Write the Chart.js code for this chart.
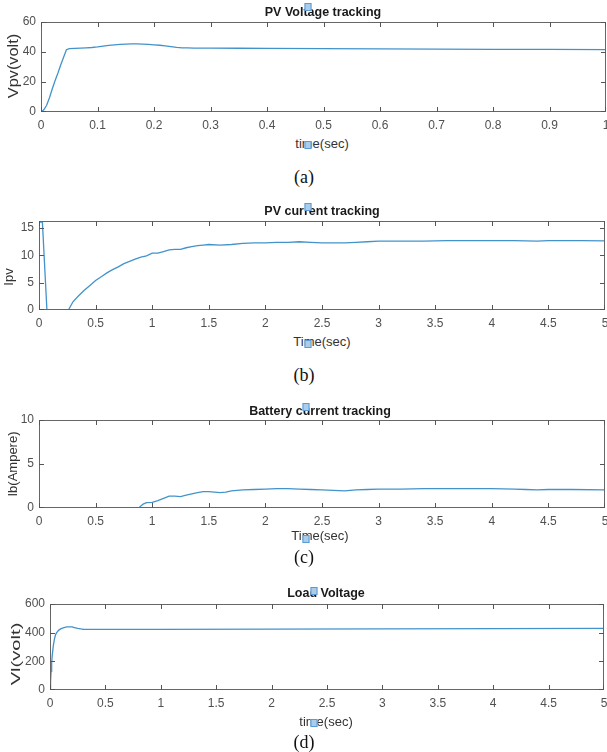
<!DOCTYPE html>
<html>
<head>
<meta charset="utf-8">
<script src="https://cdn.jsdelivr.net/npm/chart.js@4.4.1/dist/chart.umd.min.js"></script>
<style>
  body { margin: 0; background: #fff; }
  #page { position: relative; width: 607px; height: 752px; overflow: hidden; background: #fff; }
  canvas { position: absolute; left: 0; }
  .txt { position: absolute; white-space: nowrap; line-height: 1; font-family: "Liberation Sans", Arial, sans-serif; }
  .title { font-weight: bold; font-size: 12.5px; color: #1a1a1a; transform: translate(-50%, -50%); }
  .xlab { font-size: 13px; color: #333; transform: translate(-50%, -50%); }
  .ylab { color: #333; }
  .cap { font-family: "Liberation Serif", "Times New Roman", serif; font-size: 18px; color: #111; transform: translate(-50%, -50%); }
  .cursor { position: absolute; width: 5px; height: 6px; background: #a9cdea; border: 1px solid #5b9bd5; transform: translate(-50%, -50%); }
  .frame { position: absolute; box-sizing: border-box; border: 1px solid #666; }
  .tick { position: absolute; background: #555; }
</style>
</head>
<body>
<div id="page"></div>
<script>
// (a) PV voltage
const vpvTime = [0, 0.005, 0.01, 0.015, 0.02, 0.025, 0.03, 0.035, 0.04, 0.045, 0.05, 0.06, 0.07, 0.08, 0.09, 0.1, 0.11, 0.12, 0.13, 0.14, 0.15, 0.16, 0.17, 0.18, 0.19, 0.2, 0.21, 0.22, 0.23, 0.24, 0.25, 0.26, 0.27, 0.3, 0.35, 0.4, 0.5, 0.6, 0.7, 0.8, 0.9, 1.0];
const vpvVolt = [0, 1.5, 4.5, 9.5, 15.5, 21, 26, 31.5, 36.5, 41.5, 42.2, 42.4, 42.6, 42.8, 43, 43.4, 43.9, 44.4, 44.8, 45.1, 45.3, 45.4, 45.4, 45.3, 45.1, 44.8, 44.5, 44.1, 43.6, 43.1, 42.8, 42.7, 42.6, 42.6, 42.5, 42.4, 42.2, 42.1, 41.9, 41.8, 41.7, 41.6];

// (b) PV current
const ipvTime = [0, 0, 0.03, 0.07, 0.26, 0.3, 0.35, 0.4, 0.45, 0.5, 0.55, 0.6, 0.65, 0.7, 0.75, 0.8, 0.85, 0.9, 0.95, 1.0, 1.05, 1.1, 1.15, 1.2, 1.25, 1.3, 1.35, 1.4, 1.45, 1.5, 1.6, 1.7, 1.8, 1.9, 2.0, 2.1, 2.2, 2.3, 2.4, 2.5, 2.6, 2.7, 2.8, 2.9, 3.0, 3.2, 3.4, 3.6, 3.8, 4.0, 4.2, 4.4, 4.5, 4.6, 4.8, 5.0];
const ipvAmp = [0, 16.1, 16.1, 0, 0, 1.5, 2.6, 3.6, 4.5, 5.4, 6.1, 6.8, 7.4, 7.9, 8.5, 8.9, 9.3, 9.7, 9.9, 10.4, 10.4, 10.7, 11.0, 11.1, 11.1, 11.4, 11.6, 11.8, 11.9, 12.0, 11.9, 12.0, 12.2, 12.3, 12.3, 12.4, 12.4, 12.5, 12.4, 12.3, 12.3, 12.3, 12.4, 12.5, 12.6, 12.6, 12.6, 12.7, 12.7, 12.7, 12.7, 12.6, 12.7, 12.7, 12.7, 12.65];

// (c) battery current
const ibTime = [0, 0.88, 0.92, 0.95, 1.0, 1.05, 1.1, 1.15, 1.2, 1.25, 1.3, 1.35, 1.4, 1.45, 1.5, 1.55, 1.6, 1.65, 1.7, 1.8, 1.9, 2.0, 2.1, 2.2, 2.3, 2.4, 2.5, 2.6, 2.7, 2.8, 2.9, 3.0, 3.2, 3.4, 3.6, 3.8, 4.0, 4.2, 4.3, 4.4, 4.5, 4.7, 5.0];
const ibAmp = [0, 0, 0.45, 0.6, 0.65, 0.85, 1.1, 1.35, 1.35, 1.3, 1.45, 1.6, 1.75, 1.85, 1.85, 1.8, 1.75, 1.8, 1.95, 2.05, 2.1, 2.15, 2.2, 2.2, 2.15, 2.1, 2.05, 2.0, 1.95, 2.05, 2.1, 2.15, 2.15, 2.2, 2.2, 2.2, 2.2, 2.15, 2.1, 2.05, 2.1, 2.1, 2.05];

// (d) load voltage
const vlTime = [0, 0.005, 0.01, 0.015, 0.02, 0.03, 0.04, 0.05, 0.06, 0.08, 0.1, 0.12, 0.15, 0.18, 0.2, 0.22, 0.25, 0.28, 0.3, 0.4, 0.5, 1, 2, 3, 4, 5];
const vlVolt = [0, 60, 130, 190, 240, 310, 355, 385, 400, 418, 428, 434, 440, 441, 440, 436, 430, 426, 424, 423, 423, 423, 425, 427, 428, 430];

const timeTicks1 = [0, 0.1, 0.2, 0.3, 0.4, 0.5, 0.6, 0.7, 0.8, 0.9, 1];
const timeTicks5 = [0, 0.5, 1, 1.5, 2, 2.5, 3, 3.5, 4, 4.5, 5];
const vpvTicks = [0, 20, 40, 60];
const ipvTicks = [0, 5, 10, 15];
const ibTicks = [0, 5, 10];
const vlTicks = [0, 200, 400, 600];

const lineColor = '#4393cb';
const tickColor = '#505050';
const page = document.getElementById('page');

Chart.defaults.font.family = '"Liberation Sans", Arial, sans-serif';

const panels = [
  { title: 'PV Voltage tracking', xLabel: 'time(sec)', yLabel: 'Vpv(volt)', caption: '(a)',
    xs: vpvTime, ys: vpvVolt, xTicks: timeTicks1, yTicks: vpvTicks, xMax: 1, yMax: 60,
    box: [41, 22, 606, 112], titleXY: [323, 12], xLabXY: [322, 143], yLabXY: [13, 66], yLabSize: 14, yLabLen: 64, capY: 177,
    cursors: [[308, 7], [308, 145]] },
  { title: 'PV current tracking', xLabel: 'Time(sec)', yLabel: 'Ipv', caption: '(b)',
    xs: ipvTime, ys: ipvAmp, xTicks: timeTicks5, yTicks: ipvTicks, xMax: 5, yMax: 16.3,
    box: [39, 221, 605, 310], titleXY: [322, 211], xLabXY: [322, 341], yLabXY: [8, 277], yLabSize: 13, yLabLen: 17, capY: 375,
    cursors: [[308, 207], [308, 344]] },
  { title: 'Battery current tracking', xLabel: 'Time(sec)', yLabel: 'Ib(Ampere)', caption: '(c)',
    xs: ibTime, ys: ibAmp, xTicks: timeTicks5, yTicks: ibTicks, xMax: 5, yMax: 10,
    box: [39, 420, 605, 508], titleXY: [320, 411], xLabXY: [320, 535], yLabXY: [12, 464], yLabSize: 13, yLabLen: 65, capY: 557,
    cursors: [[306, 407], [306, 539]] },
  { title: 'Load Voltage', xLabel: 'time(sec)', yLabel: 'Vl(volt)', caption: '(d)',
    xs: vlTime, ys: vlVolt, xTicks: timeTicks5, yTicks: vlTicks, xMax: 5, yMax: 600,
    box: [50, 604, 604, 690], titleXY: [326, 593], xLabXY: [326, 721], yLabXY: [15, 654], yLabSize: 13, yLabLen: 62, capY: 742,
    cursors: [[314, 591], [314, 723]] }
];

function addText(cls, text, x, y) {
  const el = document.createElement('div');
  el.className = 'txt ' + cls;
  el.textContent = text;
  el.style.left = x + 'px';
  el.style.top = y + 'px';
  page.appendChild(el);
  return el;
}

function addDiv(cls, x, y, w, h) {
  const el = document.createElement('div');
  el.className = cls;
  el.style.left = x + 'px';
  el.style.top = y + 'px';
  el.style.width = w + 'px';
  el.style.height = h + 'px';
  page.appendChild(el);
}

// matlab style frame with inward ticks, placed from the chart's own scales
function addFrame(chart, offTop) {
  const a = chart.chartArea;
  const xs = chart.scales.x, ys = chart.scales.y;
  const L = Math.round(a.left), T = Math.round(a.top) + offTop;
  const R = Math.round(a.right), B = Math.round(a.bottom) + offTop;
  addDiv('frame', L, T, R - L, B - T);
  xs.ticks.forEach(tk => {
    const px = Math.min(Math.round(xs.getPixelForValue(tk.value)), R - 1);
    addDiv('tick', px, B - 5, 1, 5);
    addDiv('tick', px, T, 1, 5);
  });
  ys.ticks.forEach(tk => {
    const py = Math.min(Math.round(ys.getPixelForValue(tk.value)) + offTop, B - 1);
    addDiv('tick', L, py, 5, 1);
    addDiv('tick', R - 5, py, 5, 1);
  });
}

function makePanel(p) {
  const [l, t, r, b] = p.box;
  const topPad = 8;
  const axisH = 22;
  const cv = document.createElement('canvas');
  cv.width = 607;
  cv.height = b - t + topPad + axisH;
  cv.style.top = (t - topPad) + 'px';
  page.appendChild(cv);

  const chart = new Chart(cv, {
    type: 'line',
    data: {
      datasets: [{
        data: p.xs.map((x, i) => ({ x: x, y: p.ys[i] })),
        borderColor: lineColor,
        borderWidth: 1.3,
        pointRadius: 0,
        tension: 0,
        fill: false
      }]
    },
    options: {
      responsive: false,
      animation: false,
      events: [],
      layout: { padding: { left: 0, top: topPad, right: 607 - r, bottom: 0 } },
      plugins: { legend: { display: false }, tooltip: { enabled: false } },
      scales: {
        x: {
          type: 'linear', min: 0, max: p.xMax,
          grid: { display: false, drawTicks: false },
          border: { display: false },
          ticks: { padding: 6, color: tickColor, font: { size: 12 }, maxRotation: 0, autoSkip: false, callback: v => String(v) },
          afterBuildTicks: s => { s.ticks = p.xTicks.map(v => ({ value: v })); },
          afterFit: s => { s.height = axisH; s.paddingLeft = 0; s.paddingRight = 0; }
        },
        y: {
          type: 'linear', min: 0, max: p.yMax,
          grid: { display: false, drawTicks: false },
          border: { display: false },
          ticks: { padding: 5, color: tickColor, font: { size: 12 }, autoSkip: false, callback: v => String(v) },
          afterBuildTicks: s => { s.ticks = p.yTicks.map(v => ({ value: v })); },
          afterFit: s => { s.width = l; s.paddingTop = 0; s.paddingBottom = 0; }
        }
      }
    }
  });

  addFrame(chart, t - topPad);
  addText('title', p.title, p.titleXY[0], p.titleXY[1]);
  addText('xlab', p.xLabel, p.xLabXY[0], p.xLabXY[1]);
  const yl = addText('ylab', p.yLabel, p.yLabXY[0], p.yLabXY[1]);
  yl.style.fontSize = p.yLabSize + 'px';
  const k = p.yLabLen / yl.offsetWidth;
  yl.style.transform = 'translate(-50%, -50%) rotate(-90deg) scaleX(' + k.toFixed(3) + ')';
  addText('cap', p.caption, 304, p.capY);
  p.cursors.forEach(c => {
    const sq = document.createElement('div');
    sq.className = 'cursor';
    sq.style.left = c[0] + 'px';
    sq.style.top = c[1] + 'px';
    page.appendChild(sq);
  });
}

panels.forEach(makePanel);
</script>
</body>
</html>
